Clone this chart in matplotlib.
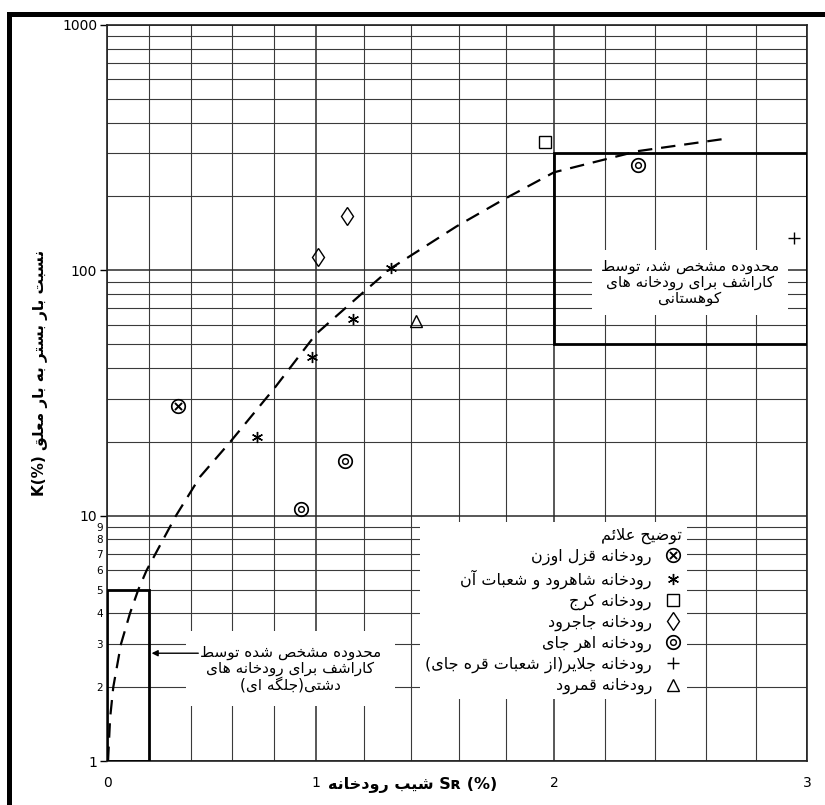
"""
K(%) vs river slope Sr(%) - bed load / suspended load ratio (Karashev ranges).
"""

import numpy as np
import matplotlib
matplotlib.use('Agg')
import matplotlib.pyplot as plt
from matplotlib.patches import Rectangle
from matplotlib.ticker import FixedLocator, FuncFormatter, NullFormatter

plt.rcParams['font.family'] = 'DejaVu Sans'
plt.rcParams['mathtext.fontset'] = 'dejavusans'

# === Data ===
ghezel_x = [0.34]
ghezel_y = [28]
shahrood_x = [0.72, 0.98, 1.155, 1.315]
shahrood_y = [21, 44.5, 63.5, 102]
karaj_x = [1.96]
karaj_y = [333]
jajrood_x = [1.01, 1.13]
jajrood_y = [113, 166]
ahar_x = [0.93, 1.12, 2.33]
ahar_y = [10.6, 16.7, 268]
jalayer_x = [2.95]
jalayer_y = [136]
ghamrood_x = [1.42]
ghamrood_y = [62]

# dashed envelope curve
curve_x = [0.005, 0.015, 0.03, 0.067, 0.11, 0.15, 0.19, 0.33, 0.445, 0.59, 0.8,
           1.0, 1.19, 1.315, 1.59, 1.79, 2.0, 2.33, 2.67]
curve_y = [1.0, 1.5, 2.0, 3.0, 4.0, 5.0, 6.0, 10, 14.4, 20, 33,
           55, 80, 102, 151, 195, 251, 306, 343]

# Karashev ranges (slope limits, K limits)
plain_box_x = [0, 0.2]
plain_box_y = [1, 5]
mountain_box_x = [2, 3]
mountain_box_y = [50, 300]

x_ticks = [0, 1, 2, 3]
y_major = [1, 10, 100, 1000]

# === Persian shaping (presentation forms + visual order) ===
DUAL = {'ب': 0xFE8F, 'پ': 0xFB56, 'ت': 0xFE95, 'ث': 0xFE99, 'ج': 0xFE9D, 'چ': 0xFB7A,
        'ح': 0xFEA1, 'خ': 0xFEA5, 'س': 0xFEB1, 'ش': 0xFEB5, 'ص': 0xFEB9, 'ض': 0xFEBD,
        'ط': 0xFEC1, 'ظ': 0xFEC5, 'ع': 0xFEC9, 'غ': 0xFECD, 'ف': 0xFED1, 'ق': 0xFED5,
        'ک': 0xFB8E, 'گ': 0xFB92, 'ل': 0xFEDD, 'م': 0xFEE1, 'ن': 0xFEE5, 'ه': 0xFEE9,
        'ی': 0xFBFC, 'ئ': 0xFE89}
RIGHT = {'ا': 0xFE8D, 'آ': 0xFE81, 'د': 0xFEA9, 'ذ': 0xFEAB, 'ر': 0xFEAD, 'ز': 0xFEAF,
         'ژ': 0xFB8A, 'و': 0xFEED}
MIRROR = {'(': ')', ')': '('}


def fa(text):
    out = []
    prev_joins = False
    i = 0
    while i < len(text):
        c = text[i]
        nxt = text[i + 1] if i + 1 < len(text) else ''
        if c == 'ل' and nxt in ('ا', 'آ'):
            base = 0xFEFB if nxt == 'ا' else 0xFEF5
            out.append(chr(base + (1 if prev_joins else 0)))
            prev_joins = False
            i += 2
            continue
        if c in DUAL:
            joins_next = nxt in DUAL or nxt in RIGHT
            if prev_joins and joins_next:
                form = 3
            elif prev_joins:
                form = 1
            elif joins_next:
                form = 2
            else:
                form = 0
            out.append(chr(DUAL[c] + form))
            prev_joins = True
        elif c in RIGHT:
            out.append(chr(RIGHT[c] + (1 if prev_joins else 0)))
            prev_joins = False
        else:
            out.append(MIRROR.get(c, c))
            prev_joins = False
        i += 1
    return ''.join(reversed(out))


def fa_lines(text):
    return '\n'.join(fa(line) for line in text.split('\n'))


# === Figure ===
fig = plt.figure(figsize=(8.25, 8.05), dpi=100)
ax = fig.add_axes([107 / 825, 1 - 761 / 805, 700 / 825, 736 / 805])

# hand-drawn slope axis is not evenly spaced: piecewise per unit
x_breaks = [0, 1, 2, 3]
x_pos = [0, 1, 2.139, 3.349]
ax.set_xscale('function', functions=(lambda v: np.interp(v, x_breaks, x_pos),
                                     lambda u: np.interp(u, x_pos, x_breaks)))
ax.set_yscale('log')
ax.set_xlim(0, 3)
ax.set_ylim(1, 1000)

ax.xaxis.set_major_locator(FixedLocator(x_ticks))
ax.xaxis.set_minor_locator(FixedLocator(np.arange(0.2, 3, 0.2)))
ax.xaxis.set_minor_formatter(NullFormatter())
ax.yaxis.set_major_locator(FixedLocator(y_major))
ax.yaxis.set_major_formatter(FuncFormatter(lambda v, p: f'{v:g}'))
minor_y = [m * d for d in (1, 10, 100) for m in range(2, 10)]
ax.yaxis.set_minor_locator(FixedLocator(minor_y))
ax.yaxis.set_minor_formatter(FuncFormatter(lambda v, p: f'{v:g}' if v < 10 else ''))

ax.tick_params(axis='x', which='both', length=0, pad=11, labelsize=10)
ax.tick_params(axis='y', which='major', length=5, width=1, pad=2, labelsize=10)
ax.tick_params(axis='y', which='minor', length=0, pad=3, labelsize=7.5)

ax.grid(True, which='major', color='#2a2a2a', linewidth=1.1)
ax.grid(True, which='minor', color='#3a3a3a', linewidth=0.8)
ax.set_axisbelow(True)
for s in ax.spines.values():
    s.set_linewidth(1.2)
    s.set_color('#222222')

# Karashev range boxes
for bx, by in [(plain_box_x, plain_box_y), (mountain_box_x, mountain_box_y)]:
    ax.add_patch(Rectangle((bx[0], by[0]), bx[1] - bx[0], by[1] - by[0],
                           fill=False, edgecolor='black', linewidth=2, zorder=3))

# envelope curve
ax.plot(curve_x, curve_y, color='black', linewidth=1.6, linestyle=(0, (6.5, 4)), zorder=4)

# annotations (white backing hides grid)
ax.text(0.833, 0.65, fa_lines('محدوده مشخص شد، توسط\nکاراشف برای رودخانه های\nکوهستانی'),
        transform=ax.transAxes, ha='center', va='center', fontsize=11,
        multialignment='center', linespacing=1.05, zorder=5,
        bbox=dict(boxstyle='square,pad=0.6', facecolor='white', edgecolor='none'))
ax.text(0.262, 0.125, fa_lines('محدوده مشخص شده توسط\nکاراشف برای رودخانه های\nدشتی(جلگه ای)'),
        transform=ax.transAxes, ha='center', va='center', fontsize=11,
        multialignment='center', linespacing=1.05, zorder=5,
        bbox=dict(boxstyle='square,pad=0.9', facecolor='white', edgecolor='none'))
ax.annotate('', xy=(0.2, 2.75), xytext=(0.45, 2.75),
            arrowprops=dict(arrowstyle='-|>', color='black', lw=1, mutation_scale=9),
            zorder=6)

# data points
mk = dict(linestyle='none', color='black', markerfacecolor='none', markeredgewidth=1, zorder=6)
glyph = dict(linestyle='none', color='black', markerfacecolor='black', markeredgewidth=0, zorder=6)
ax.plot(ghezel_x, ghezel_y, marker='$\\otimes$', markersize=11, label=fa('رودخانه قزل اوزن'), **glyph)
ax.plot(shahrood_x, shahrood_y, marker=(6, 2, 0), markersize=8, label=fa('رودخانه شاهرود و شعبات آن'), **mk)
ax.plot(karaj_x, karaj_y, marker='s', markersize=8, label=fa('رودخانه کرج'), **mk)
ax.plot(jajrood_x, jajrood_y, marker='d', markersize=9.5, label=fa('رودخانه جاجرود'), **mk)
ax.plot(ahar_x, ahar_y, marker='$\\circledcirc$', markersize=11, label=fa('رودخانه اهر جای'), **glyph)
ax.plot(jalayer_x, jalayer_y, marker='+', markersize=9, label=fa('رودخانه جلایر(از شعبات قره جای)'), **mk)
ax.plot(ghamrood_x, ghamrood_y, marker='^', markersize=9, label=fa('رودخانه قمرود'), **mk)

leg = ax.legend(loc='upper right', bbox_to_anchor=(0.84, 0.335), markerfirst=False,
                title=fa('توضیح علائم'), alignment='right', fontsize=11.5,
                title_fontsize=11.5, frameon=True, fancybox=False, framealpha=1,
                facecolor='white', edgecolor='none', labelspacing=0.3,
                handletextpad=0.7, borderpad=0.3, handlelength=1.2)
leg.set_zorder(7)

# axis titles
fig.text(40 / 825, 1 - 373 / 805, 'K(%) ' + fa('نسبت بار بستر به بار معلق'),
         rotation=90, ha='center', va='center', fontsize=11, fontweight='bold')
fig.text(413 / 825, 1 - 785 / 805, fa('شیب رودخانه') + ' S\u0280 (%)',
         ha='center', va='center', fontsize=11.5, fontweight='bold')

# scanned page border (top and left)
fig.add_artist(Rectangle((7 / 825, 0), 5 / 825, 793 / 805, transform=fig.transFigure,
                         facecolor='black', edgecolor='none'))
fig.add_artist(Rectangle((7 / 825, 1 - 17 / 805), 818 / 825, 5 / 805, transform=fig.transFigure,
                         facecolor='black', edgecolor='none'))

fig.savefig('out.png', dpi=100, facecolor='white')
